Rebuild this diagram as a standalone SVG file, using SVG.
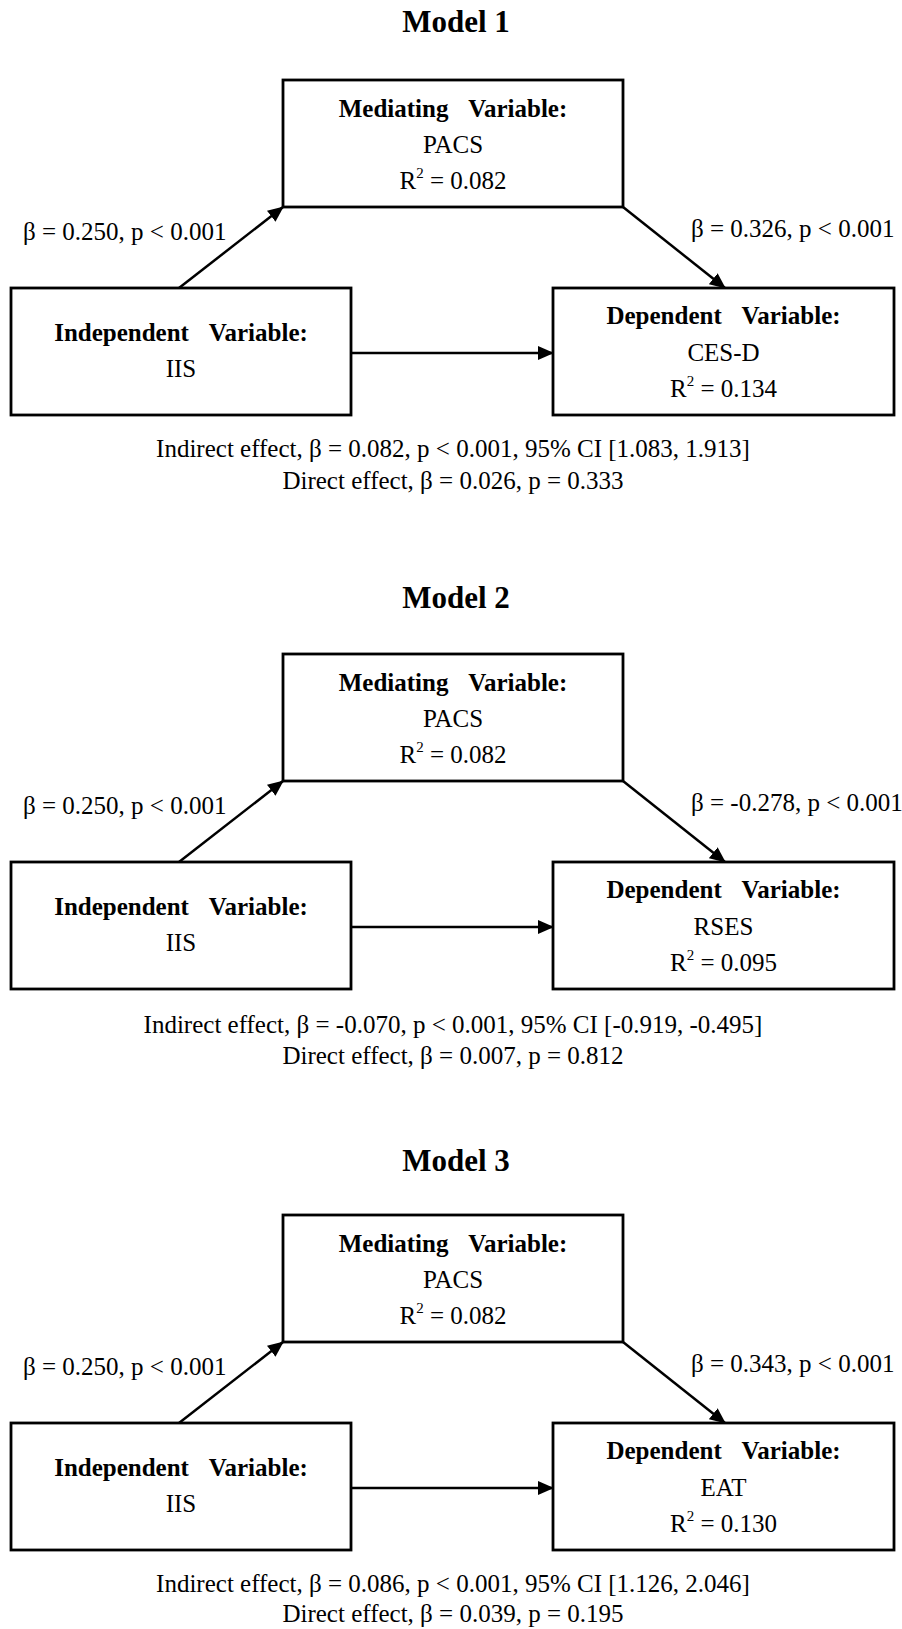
<svg xmlns="http://www.w3.org/2000/svg" width="902" height="1629" viewBox="0 0 902 1629">
<style>
text{font-family:"Liberation Serif","Times New Roman",serif;fill:#000;font-size:25px}
.title{font-weight:bold;font-size:31px;text-anchor:middle}
.hd{font-weight:bold;text-anchor:middle;word-spacing:14px}
.c{text-anchor:middle}
.box{fill:#fff;stroke:#000;stroke-width:2.8}
.ln{stroke:#000;stroke-width:2.5;fill:none;marker-end:url(#ah)}
</style>
<defs>
<marker id="ah" markerWidth="16" markerHeight="14" refX="15" refY="7" orient="auto" markerUnits="userSpaceOnUse"><path d="M0,0 L16,7 L0,14 z" fill="#000"/></marker>
</defs>
<rect width="902" height="1629" fill="#fff"/>

<!-- Model 1 -->
<g id="model1">
<text class="title" x="456" y="32">Model 1</text>
<g id="m1-connectors">
<line class="ln" x1="179" y1="288" x2="283" y2="207"/>
<line class="ln" x1="623" y1="207" x2="725" y2="288"/>
<line class="ln" x1="351" y1="353" x2="553" y2="353"/>
</g>
<g id="m1-mediator">
<rect class="box" x="283" y="80" width="340" height="127"/>
<text class="hd" x="453" y="117">Mediating Variable:</text>
<text class="c" x="453" y="153">PACS</text>
<text class="c" x="453" y="189">R<tspan dy="-11" font-size="15">2</tspan><tspan dy="11"> = 0.082</tspan></text>
</g>
<g id="m1-independent">
<rect class="box" x="11" y="288" width="340" height="127"/>
<text class="hd" x="181" y="341">Independent Variable:</text>
<text class="c" x="181" y="377">IIS</text>
</g>
<g id="m1-dependent">
<rect class="box" x="553" y="288" width="341" height="127"/>
<text class="hd" x="723.5" y="324">Dependent Variable:</text>
<text class="c" x="723.5" y="361">CES-D</text>
<text class="c" x="723.5" y="397">R<tspan dy="-11" font-size="15">2</tspan><tspan dy="11"> = 0.134</tspan></text>
</g>
<text x="23" y="240">β = 0.250, p &lt; 0.001</text>
<text x="691" y="237">β = 0.326, p &lt; 0.001</text>
<text class="c" x="453" y="457">Indirect effect, β = 0.082, p &lt; 0.001, 95% CI [1.083, 1.913]</text>
<text class="c" x="453" y="489">Direct effect, β = 0.026, p = 0.333</text>
</g>

<!-- Model 2 -->
<g id="model2" transform="translate(0,574)">
<text class="title" x="456" y="34">Model 2</text>
<g id="m2-connectors">
<line class="ln" x1="179" y1="288" x2="283" y2="207"/>
<line class="ln" x1="623" y1="207" x2="725" y2="288"/>
<line class="ln" x1="351" y1="353" x2="553" y2="353"/>
</g>
<g id="m2-mediator">
<rect class="box" x="283" y="80" width="340" height="127"/>
<text class="hd" x="453" y="117">Mediating Variable:</text>
<text class="c" x="453" y="153">PACS</text>
<text class="c" x="453" y="189">R<tspan dy="-11" font-size="15">2</tspan><tspan dy="11"> = 0.082</tspan></text>
</g>
<g id="m2-independent">
<rect class="box" x="11" y="288" width="340" height="127"/>
<text class="hd" x="181" y="341">Independent Variable:</text>
<text class="c" x="181" y="377">IIS</text>
</g>
<g id="m2-dependent">
<rect class="box" x="553" y="288" width="341" height="127"/>
<text class="hd" x="723.5" y="324">Dependent Variable:</text>
<text class="c" x="723.5" y="361">RSES</text>
<text class="c" x="723.5" y="397">R<tspan dy="-11" font-size="15">2</tspan><tspan dy="11"> = 0.095</tspan></text>
</g>
<text x="23" y="240">β = 0.250, p &lt; 0.001</text>
<text x="691" y="237">β = -0.278, p &lt; 0.001</text>
<text class="c" x="453" y="459">Indirect effect, β = -0.070, p &lt; 0.001, 95% CI [-0.919, -0.495]</text>
<text class="c" x="453" y="490">Direct effect, β = 0.007, p = 0.812</text>
</g>

<!-- Model 3 -->
<g id="model3" transform="translate(0,1135)">
<text class="title" x="456" y="36">Model 3</text>
<g id="m3-connectors">
<line class="ln" x1="179" y1="288" x2="283" y2="207"/>
<line class="ln" x1="623" y1="207" x2="725" y2="288"/>
<line class="ln" x1="351" y1="353" x2="553" y2="353"/>
</g>
<g id="m3-mediator">
<rect class="box" x="283" y="80" width="340" height="127"/>
<text class="hd" x="453" y="117">Mediating Variable:</text>
<text class="c" x="453" y="153">PACS</text>
<text class="c" x="453" y="189">R<tspan dy="-11" font-size="15">2</tspan><tspan dy="11"> = 0.082</tspan></text>
</g>
<g id="m3-independent">
<rect class="box" x="11" y="288" width="340" height="127"/>
<text class="hd" x="181" y="341">Independent Variable:</text>
<text class="c" x="181" y="377">IIS</text>
</g>
<g id="m3-dependent">
<rect class="box" x="553" y="288" width="341" height="127"/>
<text class="hd" x="723.5" y="324">Dependent Variable:</text>
<text class="c" x="723.5" y="361">EAT</text>
<text class="c" x="723.5" y="397">R<tspan dy="-11" font-size="15">2</tspan><tspan dy="11"> = 0.130</tspan></text>
</g>
<text x="23" y="240">β = 0.250, p &lt; 0.001</text>
<text x="691" y="237">β = 0.343, p &lt; 0.001</text>
<text class="c" x="453" y="457">Indirect effect, β = 0.086, p &lt; 0.001, 95% CI [1.126, 2.046]</text>
<text class="c" x="453" y="487">Direct effect, β = 0.039, p = 0.195</text>
</g>
</svg>
